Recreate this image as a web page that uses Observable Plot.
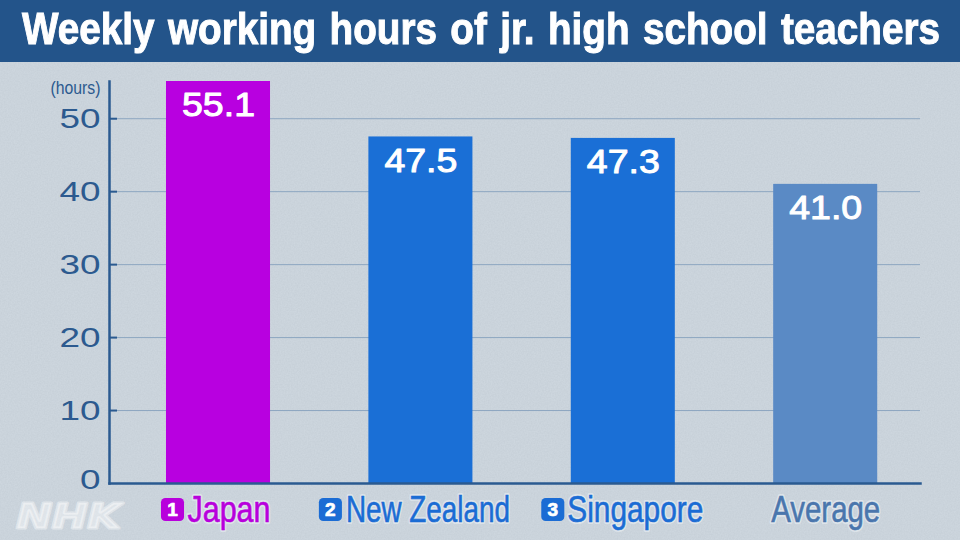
<!DOCTYPE html>
<html><head><meta charset="utf-8">
<script src="https://cdn.jsdelivr.net/npm/d3@7"></script>
<script src="https://cdn.jsdelivr.net/npm/@observablehq/plot@0.6"></script>
<style>
html,body{margin:0;padding:0;width:960px;height:540px;overflow:hidden;background:#cdd6de}
body{background-image:url("data:image/svg+xml,%3Csvg xmlns='http://www.w3.org/2000/svg' width='960' height='540'%3E%3Cfilter id='n'%3E%3CfeTurbulence type='fractalNoise' baseFrequency='.7' numOctaves='2'/%3E%3CfeColorMatrix values='0 0 0 0 .3 0 0 0 0 .35 0 0 0 0 .4 0 0 0 .2 -.05'/%3E%3C/filter%3E%3Crect width='960' height='540' filter='url(%23n)'/%3E%3C/svg%3E")}
#bar{height:62px;background:#23548a;position:relative;overflow:hidden}
#title{position:absolute;left:22px;top:4px;color:#fff;font:bold 44px "Liberation Sans Narrow","Liberation Sans",sans-serif;-webkit-text-stroke:1px #fff;word-spacing:3px;white-space:nowrap;transform-origin:0 0}
#chart svg{display:block;background:transparent}
</style></head><body>
<div id="bar"><span id="title">Weekly working hours of jr. high school teachers</span></div>
<div id="chart"></div>
<script>
const titleText = "Weekly working hours of jr. high school teachers";
const categories = ["Japan", "New Zealand", "Singapore", "Average"];
const hours = [55.1, 47.5, 47.3, 41.0];
const valueLabels = ["55.1", "47.5", "47.3", "41.0"];
const ranks = ["1", "2", "3", ""];
const gridTicks = [10, 20, 30, 40, 50];
const zeroTick = [0];
const yUnit = "(hours)";
const logo = "NHK";

const rows = categories.map((c, i) => ({category: c, value: hours[i], label: valueLabels[i], rank: ranks[i]}));
const colors = ["#b800e0", "#1a6fd6", "#1a6fd6", "#5a8ac5"];
const labelColors = ["#b800dc", "#1b6cd4", "#1b6cd4", "#4a76ad"];
const badgeDx = [-46, -90.5, -70.5];
const textDx = [10.5, 7, 12, 0];
const textWidths = [83, 164, 136, 109];
const labelDy = 27;

const roundedSquare = {draw(ctx, size) {
  const h = Math.sqrt(size) / 2, r = h * 0.38;
  ctx.moveTo(-h + r, -h);
  ctx.lineTo(h - r, -h); ctx.arcTo(h, -h, h, -h + r, r);
  ctx.lineTo(h, h - r); ctx.arcTo(h, h, h - r, h, r);
  ctx.lineTo(-h + r, h); ctx.arcTo(-h, h, -h, h - r, r);
  ctx.lineTo(-h, -h + r); ctx.arcTo(-h, -h, -h + r, -h, r);
  ctx.closePath();
}};

const narrow = '"Liberation Sans Narrow","Liberation Sans",sans-serif';
const labelMarks = rows.flatMap((d, i) => {
  const base = {x: "category", text: "category", frameAnchor: "bottom", dx: textDx[i], dy: labelDy,
    fontSize: 36, fontFamily: narrow, lineAnchor: "middle", className: "cat-label"};
  const marks = [
    Plot.text([d], {...base, fill: "none", stroke: "#eef3f7", strokeWidth: 4, strokeOpacity: 0.55}),
    Plot.text([d], {...base, fill: labelColors[i], stroke: labelColors[i], strokeWidth: 0.6})
  ];
  if (d.rank) {
    marks.push(Plot.dot([d], {x: "category", frameAnchor: "bottom", dx: badgeDx[i], dy: labelDy - 1, symbol: roundedSquare, r: 13,
      fill: labelColors[i], stroke: "none"}));
    marks.push(Plot.text([d], {x: "category", text: "rank", frameAnchor: "bottom", dx: badgeDx[i], dy: labelDy - 1,
      fill: "#fff", stroke: "#fff", strokeWidth: 0.7, fontSize: 19, fontWeight: "bold", fontFamily: "Liberation Sans", lineAnchor: "middle"}));
  }
  return marks;
});

const yAxisStyle = {tickSize: 0, tickPadding: 9, fontSize: 28, fontFamily: "Liberation Sans", fill: "#2c5a8f",
  stroke: "#2c5a8f", strokeWidth: 1, label: null, tickFormat: d => String(d), className: "y-labels"};

const plot = Plot.plot({
  width: 960, height: 478,
  marginTop: 19, marginBottom: 57, marginLeft: 109, marginRight: 40,
  style: {background: "transparent"},
  x: {domain: categories, range: [116.3, 926.9], round: false, paddingInner: 0.486, paddingOuter: 0.2455, axis: null},
  y: {domain: [0, 55.1], range: [421, 19], axis: null},
  marks: [
    Plot.ruleY(gridTicks, {stroke: "#8da6c0", strokeWidth: 1}),
    Plot.barY(rows, {x: "category", y: "value", fill: (d) => colors[categories.indexOf(d.category)]}),
    Plot.ruleY(gridTicks, {stroke: "#2a5a90", strokeWidth: 2, insetRight: 803}),
    Plot.frame({anchor: "left", stroke: "#2a5a90", strokeWidth: 2.5}),
    Plot.frame({anchor: "bottom", stroke: "#2a5a90", strokeWidth: 2.5}),
    Plot.axisY({...yAxisStyle, ticks: gridTicks}),
    Plot.axisY({...yAxisStyle, ticks: zeroTick, dy: -3}),
    Plot.text([yUnit], {frameAnchor: "top-left", dx: -9, dy: -1, textAnchor: "end", fill: "#2c5a8f",
      fontSize: 19, fontFamily: narrow, lineAnchor: "top", className: "unit"}),
    Plot.text(rows, {x: "category", y: "value", text: "label", dy: 24, fill: "#fff", stroke: "#fff", strokeWidth: 1,
      fontSize: 34, fontFamily: "Liberation Sans", lineAnchor: "middle", className: "val-label"}),
    ...labelMarks,
    Plot.text([logo], {frameAnchor: "bottom-left", dx: -93, dy: 44, fill: "#fff", fillOpacity: 0.42, stroke: "#fff",
      strokeOpacity: 0.42, strokeWidth: 3, strokeLinejoin: "round", paintOrder: "stroke", fontSize: 34, fontWeight: "bold", fontStyle: "italic",
      fontFamily: "DejaVu Sans", lineAnchor: "bottom", className: "logo"})
  ]
});
document.getElementById("chart").append(plot);

// stretch the wide/narrow display type to the proportions of the broadcast lettering
const stretch = (sel, widthOf) => plot.querySelectorAll(sel).forEach(t => {
  const w = widthOf(t);
  if (w) { t.setAttribute("textLength", w); t.setAttribute("lengthAdjust", "spacingAndGlyphs"); }
});
stretch("text.val-label, .val-label text", () => 73);
stretch("text.cat-label, .cat-label text", t => textWidths[categories.indexOf(t.textContent)]);
stretch('text.y-labels, .y-labels text', t => t.textContent.length * 20.5);
stretch("text.logo, .logo text", () => 104);
stretch("text.unit, .unit text", () => 50);

const titleEl = document.getElementById("title");
const tw = titleEl.getBoundingClientRect().width;
titleEl.style.transform = `scaleX(${918 / tw})`;
</script>
</body></html>
